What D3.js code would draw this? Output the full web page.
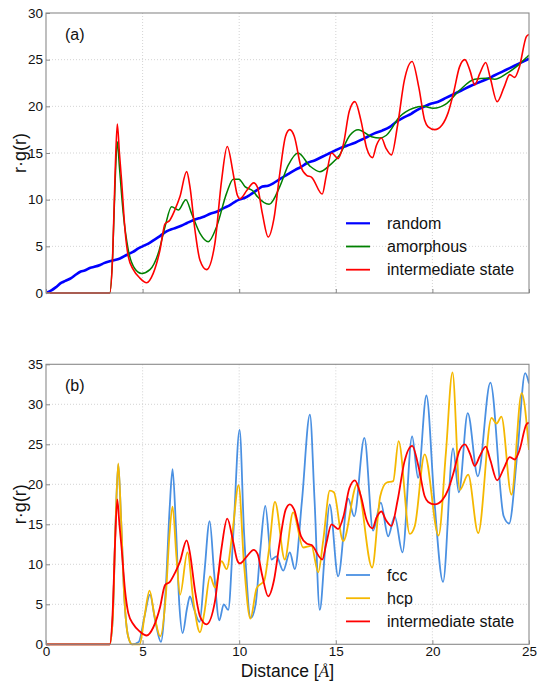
<!DOCTYPE html>
<html><head><meta charset="utf-8">
<script src="https://cdn.jsdelivr.net/npm/d3@7"></script>
<style>body{margin:0;background:#fff}svg{display:block}</style>
</head><body><svg id="c" width="537" height="681"></svg>
<script>
// ---- data (r in Å, r·g(r)) ----
const xTicks = [0, 5, 10, 15, 20, 25];
const yTicksA = [0, 5, 10, 15, 20, 25, 30];
const yTicksB = [0, 5, 10, 15, 20, 25, 30, 35];

const randomPts = [[0,0],[0.3,0.3],[0.5,0.6],[0.8,1.1],[1,1.3],[1.3,1.6],[1.5,1.9],[1.8,2.3],[2,2.4],[2.3,2.7],[2.5,2.8],[2.8,3.0],[3,3.2],[3.3,3.4],[3.5,3.5],[3.83,3.7],[4.2,4.1],[4.5,4.4],[4.8,4.8],[5,5.0],[5.3,5.3],[5.6,5.7],[5.9,6.1],[6.24,6.6],[6.6,6.9],[7,7.2],[7.3,7.5],[7.62,7.8],[7.9,8.0],[8.2,8.2],[8.5,8.5],[8.83,8.7],[9.2,9.1],[9.5,9.4],[9.8,9.8],[10,10],[10.3,10.2],[10.55,10.5],[10.9,11.0],[11.2,11.4],[11.5,11.5],[11.76,11.75],[12.1,12.2],[12.5,12.7],[12.9,13.2],[13.2,13.5],[13.49,13.9],[13.9,14.2],[14.3,14.6],[14.7,15.0],[15.2,15.5],[15.6,15.8],[16,16.1],[16.5,16.6],[17,17.1],[17.4,17.4],[17.8,17.8],[18.1,18.3],[18.5,18.8],[18.9,19.2],[19.2,19.6],[19.6,20.0],[19.95,20.3],[20.3,20.5],[20.7,20.9],[21.1,21.3],[21.5,21.7],[22,22.2],[22.45,22.6],[22.8,22.9],[23.2,23.3],[23.6,23.7],[24,24.1],[24.5,24.6],[25,25.1]];

const amorphousPts = [[0,0],[3.3,0],[3.45,4],[3.58,12],[3.69,16.2],[3.8,13.5],[4.0,8.5],[4.26,4.6],[4.6,2.6],[4.95,2.1],[5.38,2.5],[5.81,4.25],[6.16,7.1],[6.5,9.25],[6.85,8.9],[7.24,10.0],[7.54,8.5],[7.97,6.4],[8.4,5.5],[8.83,7.1],[9.35,10.7],[9.69,12.2],[9.98,12.2],[10.3,11.4],[10.73,10.9],[10.95,10.3],[11.55,9.5],[12.1,11.4],[12.54,13.7],[13.05,15.0],[13.66,13.6],[14.18,13.0],[14.69,13.7],[15.2,14.8],[15.73,16.9],[16.16,17.5],[16.85,16.75],[17.28,16.6],[17.62,16.9],[18.31,18.9],[19.0,19.8],[19.52,20.0],[20.04,19.8],[20.73,20.3],[21.42,21.75],[22.19,22.9],[22.8,23.0],[23.23,22.9],[23.83,23.5],[24.35,24.25],[24.95,25.4],[25,25.5]];

const intermediatePts = [[0,0],[3.3,0],[3.45,4],[3.58,13],[3.69,18.1],[3.8,15],[3.91,12.1],[4.09,6.75],[4.26,3.9],[4.52,2.5],[4.86,1.6],[5.21,1.1],[5.55,2.1],[5.9,4.6],[6.16,7.4],[6.41,7.8],[6.67,8.9],[6.93,10.3],[7.28,13.0],[7.45,11.4],[7.71,6.75],[7.97,3.5],[8.31,2.5],[8.74,5.3],[9.09,12.1],[9.38,15.7],[9.69,12.8],[9.9,10.5],[10.04,10.1],[10.4,11],[10.75,11.8],[10.95,11.3],[11.2,8.5],[11.5,6.0],[11.8,8],[12.1,12.8],[12.4,16.8],[12.62,17.5],[12.85,16.8],[13.2,13.5],[13.49,12.6],[13.75,12.4],[14.3,10.6],[14.5,12.5],[14.78,15.0],[15.12,14.4],[15.4,16],[15.7,19.5],[15.99,20.5],[16.3,18.5],[16.6,15.5],[16.9,14.5],[17.1,15.8],[17.36,16.6],[17.6,15.5],[17.88,14.8],[18.2,18],[18.55,22.8],[18.95,24.8],[19.3,22],[19.6,18.5],[19.78,17.8],[20.12,17.5],[20.5,18],[20.81,19.3],[21.1,21.5],[21.4,24.2],[21.68,25.0],[21.95,23.8],[22.19,22.3],[22.45,23.5],[22.76,24.7],[23.0,23],[23.35,20.5],[23.7,22],[24.0,23.4],[24.26,23.1],[24.5,24.2],[24.87,27.5],[25,27.7]];

const fccPts = [[0,0],[3.3,0],[3.45,3],[3.6,15],[3.74,22.5],[3.88,16],[4.05,6],[4.25,1],[4.45,0],[4.8,0.3],[5.1,3.5],[5.38,6.2],[5.65,3],[5.95,0.3],[6.2,7],[6.4,17],[6.55,21.9],[6.72,15],[6.9,5],[7.07,1.4],[7.3,4.5],[7.45,6],[7.65,4.5],[7.95,2.8],[8.2,9],[8.47,15.4],[8.7,9],[8.97,3.0],[9.2,5.0],[9.43,4.3],[9.7,14],[10.02,26.8],[10.25,14],[10.6,3.3],[10.85,5],[11.1,12],[11.35,17.3],[11.67,10.6],[11.93,11.0],[12.28,9.2],[12.62,11.5],[12.88,9.4],[13.25,18],[13.66,28.7],[13.9,18],[14.17,4.3],[14.45,12],[14.68,17.5],[15.12,8.5],[15.64,18.2],[15.95,16.0],[16.48,25.8],[16.93,14.2],[17.33,17.7],[17.71,13.5],[18.05,16.0],[18.45,11.5],[18.95,26],[19.26,20.8],[19.69,31.1],[20.1,18],[20.55,7.8],[21.07,24.5],[21.37,19],[21.83,28.9],[22.35,21],[23.0,32.7],[23.69,16],[23.97,15.1],[24.4,24],[24.8,33.9],[25,32.6]];

const hcpPts = [[0,0],[3.3,0],[3.45,3],[3.6,15],[3.74,22.6],[3.88,16],[4.05,6],[4.25,1],[4.45,0],[4.85,0],[5.1,3.5],[5.36,6.7],[5.62,3.5],[5.91,1.0],[6.2,6],[6.4,14],[6.55,17.2],[6.75,11],[6.94,6.2],[7.32,11.5],[7.65,5],[7.97,1.5],[8.2,4],[8.49,8.5],[8.75,7.1],[9.09,10.4],[9.35,9.4],[9.65,14],[9.97,19.9],[10.25,10],[10.58,3.2],[10.9,7.0],[11.3,8.0],[11.55,12],[11.85,17.8],[12.36,10.6],[12.79,16.5],[13.31,12.1],[13.74,12.3],[14.09,9.0],[14.35,13],[14.69,19.2],[14.9,19.0],[15.38,12.9],[16.1,20.0],[16.88,9.6],[17.3,18.5],[17.62,20.2],[17.97,20.4],[18.25,25.4],[18.83,13.8],[19.09,14.8],[19.6,23.75],[20.32,13.6],[20.7,24],[21.04,34],[21.42,19.3],[21.85,21.2],[22.37,13.9],[23.06,28.3],[23.32,27.6],[23.57,28.45],[24.09,18.7],[24.62,31.4],[25,24.3]];

const seriesA = [
  {name: "random", pts: randomPts, color: "#0000ff", w: 2.6},
  {name: "amorphous", pts: amorphousPts, color: "#008000", w: 1.5},
  {name: "intermediate state", pts: intermediatePts, color: "#ff0000", w: 1.6}
];
const seriesB = [
  {name: "fcc", pts: fccPts, color: "#4a90e2", w: 1.8},
  {name: "hcp", pts: hcpPts, color: "#f5b800", w: 1.8},
  {name: "intermediate state", pts: intermediatePts, color: "#ff0000", w: 1.8}
];

// ---- drawing ----
const svg = d3.select("#c");
const FONT = "'Liberation Sans', Arial, Helvetica, sans-serif";
const x = d3.scaleLinear().domain([0, 25]).range([46, 529]);

function panel(top, bottom, ymax, yTicks, series, label, legendTop, showXLabels) {
  const y = d3.scaleLinear().domain([0, ymax]).range([bottom, top]);
  const g = svg.append("g");
  // grid
  g.append("g").selectAll("line").data(xTicks.slice(1, -1)).join("line")
    .attr("x1", d => x(d)).attr("x2", d => x(d)).attr("y1", top).attr("y2", bottom)
    .attr("stroke", "#c8c8c8").attr("stroke-width", 0.8).attr("stroke-dasharray", "1,2");
  g.append("g").selectAll("line").data(yTicks.slice(1, -1)).join("line")
    .attr("x1", x(0)).attr("x2", x(25)).attr("y1", d => y(d)).attr("y2", d => y(d))
    .attr("stroke", "#c8c8c8").attr("stroke-width", 0.8).attr("stroke-dasharray", "1,2");

  // lines
  const line = d3.line().x(d => x(d[0])).y(d => y(d[1])).curve(d3.curveMonotoneX);
  const clipId = "clip" + Math.round(top);
  svg.append("clipPath").attr("id", clipId).append("rect")
    .attr("x", x(0)).attr("y", top - 2).attr("width", x(25) - x(0)).attr("height", bottom - top + 4);
  const lg = g.append("g").attr("clip-path", `url(#${clipId})`);
  series.forEach(s => {
    lg.append("path").attr("d", line(s.pts)).attr("fill", "none")
      .attr("stroke", s.color).attr("stroke-width", s.w).attr("stroke-linejoin", "round");
  });

  // frame
  g.append("rect").attr("x", x(0)).attr("y", top).attr("width", x(25) - x(0)).attr("height", bottom - top)
    .attr("fill", "none").attr("stroke", "#8a8a8a").attr("stroke-width", 1.1);

  // axes
  const ya = d3.axisLeft(y).tickValues(yTicks).tickSize(-4).tickPadding(3).tickFormat(d3.format("d"));
  const yg = g.append("g").attr("transform", `translate(${x(0)},0)`).call(ya);
  yg.select(".domain").remove();
  yg.selectAll(".tick line").attr("stroke", "#8a8a8a");
  yg.selectAll("text").attr("font-family", FONT).attr("font-size", 13.5).attr("fill", "#111");

  const xa = d3.axisBottom(x).tickValues(xTicks).tickSize(-4).tickPadding(2).tickFormat(d3.format("d"));
  const xg = g.append("g").attr("transform", `translate(0,${bottom})`).call(xa);
  xg.select(".domain").remove();
  xg.selectAll(".tick line").attr("stroke", "#8a8a8a");
  xg.selectAll("text").attr("font-family", FONT).attr("font-size", 13.5).attr("fill", "#111");
  if (!showXLabels) xg.selectAll("text").remove();

  // y label
  g.append("text").attr("transform", `translate(20,${(top + bottom) / 2}) rotate(-90)`)
    .attr("text-anchor", "middle").attr("dy", "0.35em")
    .attr("font-family", FONT).attr("font-size", 18).attr("fill", "#111").text("r·g(r)");

  // panel label
  g.append("text").attr("x", 65).attr("y", top + 27).attr("font-family", FONT)
    .attr("font-size", 16).attr("fill", "#111").text(label);

  // legend
  const leg = g.append("g");
  series.forEach((s, i) => {
    const yy = legendTop + i * 23.2;
    leg.append("line").attr("x1", 346).attr("x2", 370).attr("y1", yy).attr("y2", yy)
      .attr("stroke", s.color).attr("stroke-width", s.w < 2 ? 1.8 : 2.2);
    leg.append("text").attr("x", 387).attr("y", yy).attr("dy", "0.35em")
      .attr("font-family", FONT).attr("font-size", 16).attr("fill", "#111").text(s.name);
  });
  return y;
}

panel(13, 293, 30, yTicksA, seriesA, "(a)", 223.3, false);
panel(364.3, 644.3, 35, yTicksB, seriesB, "(b)", 575, true);

// x label
const xl = svg.append("text").attr("x", (x(0) + x(25)) / 2).attr("y", 677)
  .attr("text-anchor", "middle").attr("font-family", FONT).attr("font-size", 17.5).attr("fill", "#111");
xl.append("tspan").text("Distance [");
xl.append("tspan").attr("font-family", "'Liberation Serif', 'DejaVu Serif', serif").attr("font-style", "italic").text("Å");
xl.append("tspan").text("]");
</script>
</body></html>
